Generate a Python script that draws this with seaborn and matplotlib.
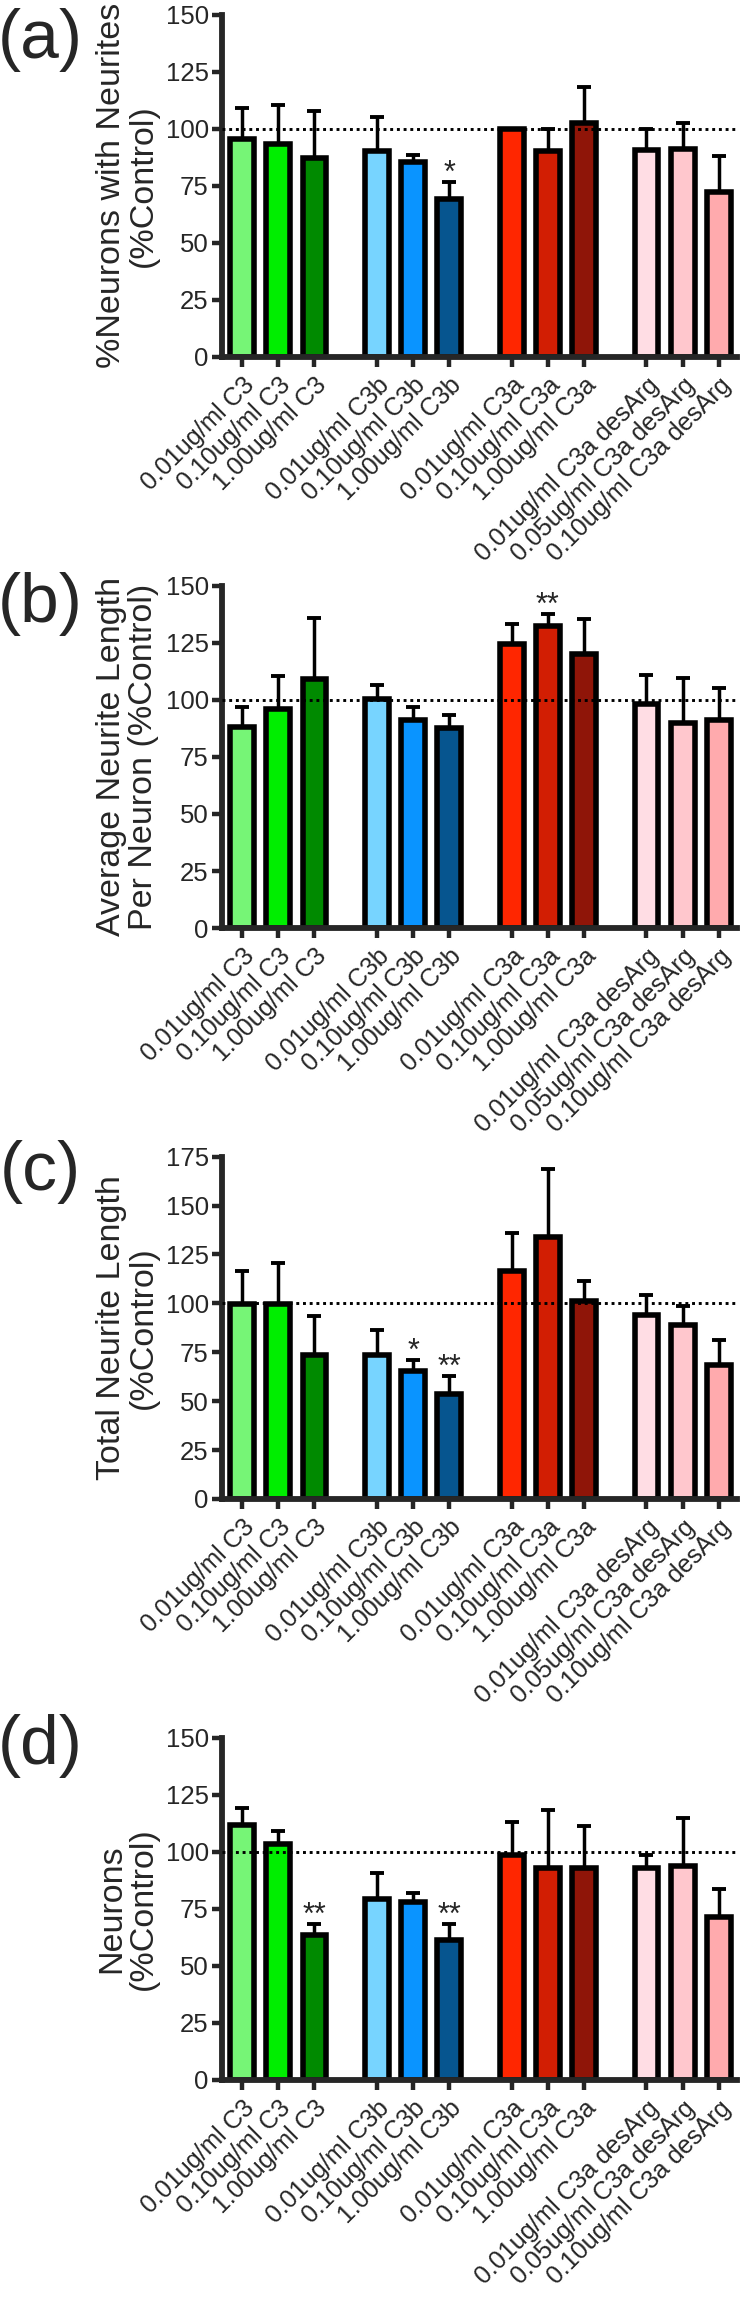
import matplotlib
matplotlib.use("Agg")
import matplotlib.pyplot as plt
import numpy as np
import seaborn as sns

# treatment labels and bar colours (4 groups of 3 doses)
labels = [
    "0.01ug/ml C3", "0.10ug/ml C3", "1.00ug/ml C3",
    "0.01ug/ml C3b", "0.10ug/ml C3b", "1.00ug/ml C3b",
    "0.01ug/ml C3a", "0.10ug/ml C3a", "1.00ug/ml C3a",
    "0.01ug/ml C3a desArg", "0.05ug/ml C3a desArg", "0.10ug/ml C3a desArg",
]
group_idx = [0, 0, 0, 1, 1, 1, 2, 2, 2, 3, 3, 3]
bar_colors = [
    "#76F576", "#00EE00", "#008A00",
    "#77D4FF", "#0A94FF", "#06558F",
    "#FF2600", "#D21E03", "#8F1508",
    "#FFDDE4", "#FFC7CD", "#FFAAAD",
]

# (a) % neurons with neurites
neurites_mean = [95.7, 93.2, 87.1, 90.3, 85.6, 69.4, 100.0, 90.3, 102.6, 90.8, 91.3, 72.5]
neurites_sem = [13.3, 17.4, 20.6, 14.9, 3.1, 7.3, 0.0, 9.4, 15.8, 8.9, 11.3, 15.5]
neurites_stars = {5: "*"}

# (b) average neurite length per neuron
avg_len_mean = [88.0, 96.0, 109.0, 100.2, 91.1, 87.6, 124.4, 132.3, 120.0, 98.1, 90.0, 91.3]
avg_len_sem = [8.8, 14.3, 26.7, 6.5, 6.0, 5.8, 8.7, 5.5, 15.4, 12.8, 19.5, 13.8]
avg_len_stars = {7: "**"}

# (c) total neurite length
total_len_mean = [99.9, 99.9, 73.8, 73.4, 65.6, 53.5, 116.3, 133.7, 101.4, 94.2, 88.9, 68.5]
total_len_sem = [16.4, 20.8, 19.5, 13.1, 5.3, 9.3, 19.9, 35.0, 10.2, 10.2, 9.9, 12.8]
total_len_stars = {4: "*", 5: "**"}

# (d) neurons
neurons_mean = [111.6, 103.3, 63.6, 79.1, 77.8, 61.3, 98.4, 92.9, 92.9, 92.9, 93.7, 71.3]
neurons_sem = [7.6, 6.0, 4.8, 11.7, 4.1, 7.1, 14.8, 25.5, 18.3, 5.5, 21.1, 12.5]
neurons_stars = {2: "**", 5: "**"}

panels = [
    ("(a)", "%Neurons with Neurites\n(%Control)", neurites_mean, neurites_sem, neurites_stars, 150),
    ("(b)", "Average Neurite Length\nPer Neuron (%Control)", avg_len_mean, avg_len_sem, avg_len_stars, 150),
    ("(c)", "Total Neurite Length\n(%Control)", total_len_mean, total_len_sem, total_len_stars, 175),
    ("(d)", "Neurons\n(%Control)", neurons_mean, neurons_sem, neurons_stars, 150),
]


def make_figure():
    sns.set_style("ticks")
    plt.rcParams["font.family"] = ["Liberation Sans", "DejaVu Sans"]

    fig = plt.figure(figsize=(7.45, 23), dpi=100)

    # bar positions: one slot per bar, wider gap between groups
    group_step = 3.73
    x_pos = np.array([g * group_step + (i % 3) for i, g in enumerate(group_idx)])
    palette = dict(zip(labels, bar_colors))

    bottoms = [0.8448, 0.5965, 0.3483, 0.0957]
    letter_y = [40, 604, 1172, 1746]

    for k, (letter, ylab, means, sems, stars, ytop) in enumerate(panels):
        ax = fig.add_axes([0.298, bottoms[k], 0.691, 0.1488])

        sns.barplot(
            x=x_pos, y=means, hue=labels, palette=palette, native_scale=True,
            width=0.66, edgecolor="black", linewidth=4.0, legend=False,
            saturation=1, errorbar=None, ax=ax, zorder=2,
        )
        lower = np.zeros(len(sems))
        ax.errorbar(
            x_pos, means, yerr=[lower, sems], fmt="none", ecolor="black",
            elinewidth=2.5, capsize=5.2, capthick=2.8, zorder=1.5,
        )
        ax.axhline(100, color="black", lw=2.1, ls=(0, (1, 1.3)), zorder=5)

        for i, s in stars.items():
            ax.annotate(
                s, (x_pos[i], means[i] + sems[i]), xytext=(0, 0),
                textcoords="offset points", ha="center", va="baseline", fontsize=22,
            )

        ax.set_xlim(-0.56, x_pos[-1] + 0.5)
        ax.set_ylim(0, ytop)
        ax.set_yticks(np.arange(0, ytop + 1, 25))
        ax.set_xticks(x_pos)
        ax.set_xticklabels(labels, rotation=45, ha="right", rotation_mode="anchor")
        ax.set_xlabel("")
        ax.set_ylabel(ylab, fontsize=24.5, linespacing=1.05)
        ax.yaxis.set_label_coords(-0.122, 0.5)

        sns.despine(ax=ax)
        for side in ["left", "bottom"]:
            ax.spines[side].set_linewidth(4.2)
        ax.tick_params(axis="y", length=7.5, width=3.2, labelsize=18.5, pad=2)
        ax.tick_params(axis="x", length=7.5, width=3.2, labelsize=18, pad=4)

        fig.text(40 / 745, 1 - letter_y[k] / 2300, letter, fontsize=50,
                 ha="center", va="center")

    fig.savefig("out.png", dpi=100)


if __name__ == "__main__":
    make_figure()
